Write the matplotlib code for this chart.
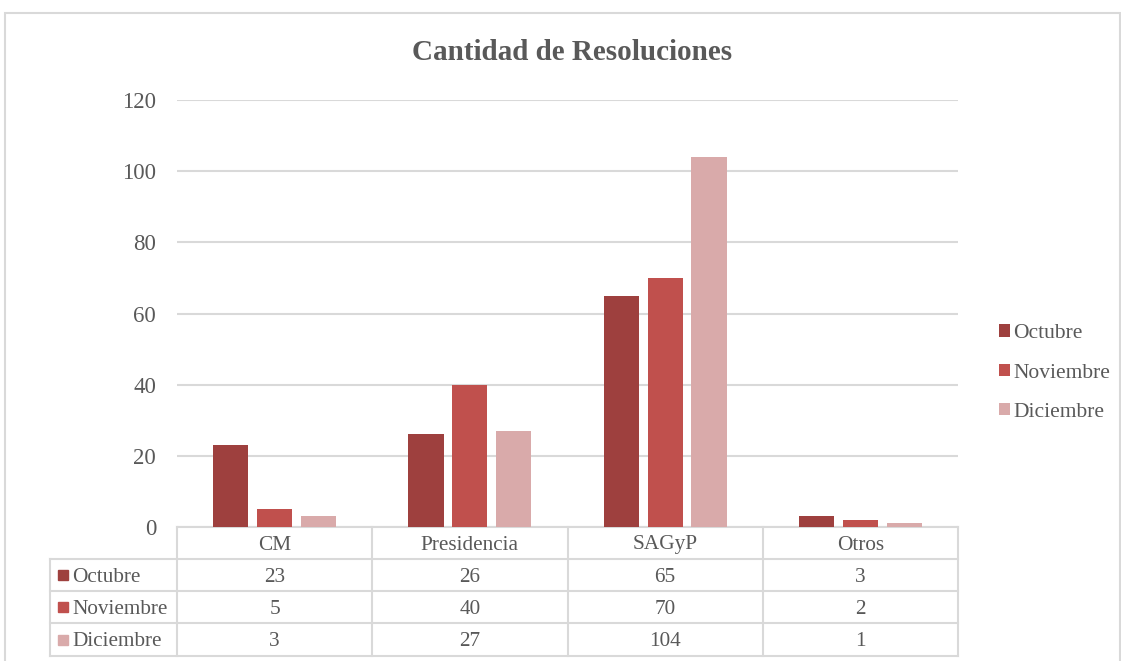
import matplotlib.pyplot as plt
from matplotlib.patches import Rectangle
import numpy as np

plt.rcParams['font.family'] = ['Liberation Serif', 'DejaVu Serif']

categorias = ['CM', 'Presidencia', 'SAGyP', 'Otros']
meses = ['Octubre', 'Noviembre', 'Diciembre']
octubre = [23, 26, 65, 3]
noviembre = [5, 40, 70, 2]
diciembre = [3, 27, 104, 1]
series = [octubre, noviembre, diciembre]
colores = ['#9E403E', '#C0504D', '#D9AAAA']
gris = '#595959'
linea = '#D9D9D9'

W, H = 1121, 661
fig = plt.figure(figsize=(W / 100, H / 100), dpi=100)

def fx(px):
    return px / W

def fy(py):
    return 1 - py / H

# borde exterior
fig.patches.append(Rectangle((fx(5), fy(700)), fx(1115), fy(13) - fy(700),
                             transform=fig.transFigure, fill=False,
                             edgecolor=linea, lw=1.5))

ax = fig.add_axes([fx(177), fy(527), fx(958) - fx(177), fy(100) - fy(527)])
x = np.arange(len(categorias))
ancho = 0.18
paso = 0.225
for i, (mes, vals) in enumerate(zip(meses, series)):
    ax.bar(x + (i - 1) * paso, vals, ancho, color=colores[i], label=mes, zorder=3)

ax.set_xlim(-0.5, len(categorias) - 0.5)
ax.set_ylim(0, 120)
ax.set_yticks(range(0, 121, 20))
ax.yaxis.grid(True, color=linea, lw=1.5, zorder=0)
ax.tick_params(axis='y', length=0, pad=15, labelsize=16.5, labelcolor=gris)
ax.tick_params(axis='x', length=0, labelbottom=False)
for s in ['top', 'right', 'left']:
    ax.spines[s].set_visible(False)
ax.spines['bottom'].set_color(linea)
ax.spines['bottom'].set_linewidth(1.5)

fig.text(fx(572), fy(52), 'Cantidad de Resoluciones', ha='center', va='center',
         fontsize=21, fontweight='bold', color=gris)

# tabla de datos
filas_y = [527, 559, 591, 623, 656]
izq = 50
bordes = [i - 0.5 for i in range(len(categorias) + 1)]
trans = ax.get_xaxis_transform()
def ay(py):
    return (527 - py) / (527 - 100)

for py in filas_y[1:]:
    ax.plot([fx(izq), fx(958)], [fy(py), fy(py)], color=linea, lw=1.5,
            transform=fig.transFigure, clip_on=False)
for b in bordes:
    ax.plot([b, b], [0, ay(656)], color=linea, lw=1.5, transform=trans, clip_on=False)
ax.plot([fx(izq), fx(izq)], [fy(559), fy(656)], color=linea, lw=1.5,
        transform=fig.transFigure, clip_on=False)

for j, cat in enumerate(categorias):
    ax.text(j, ay((527 + 559) / 2 + 2), cat, transform=trans, ha='center', va='center',
            fontsize=15.3, color=gris)
for i, (mes, vals) in enumerate(zip(meses, series)):
    yc = (filas_y[i + 1] + filas_y[i + 2]) / 2
    for j, v in enumerate(vals):
        ax.text(j, ay(yc + 2), str(v), transform=trans, ha='center', va='center',
                fontsize=15.3, color=gris)
    fig.patches.append(Rectangle((fx(58), fy(yc + 5)), fx(10), fy(yc - 5) - fy(yc + 5),
                                 transform=fig.transFigure, color=colores[i]))
    fig.text(fx(72), fy(yc + 2), mes, ha='left', va='center', fontsize=15.3, color=gris)

leg = ax.legend(loc='center left', frameon=False, fontsize=15.5,
                handlelength=0.5, handleheight=0.5, handletextpad=0.15,
                labelspacing=0.95, labelcolor=gris, borderpad=0, borderaxespad=0)
leg.set_bbox_to_anchor((fx(999), fy(373)), transform=fig.transFigure)

fig.savefig('out.png', dpi=100)
